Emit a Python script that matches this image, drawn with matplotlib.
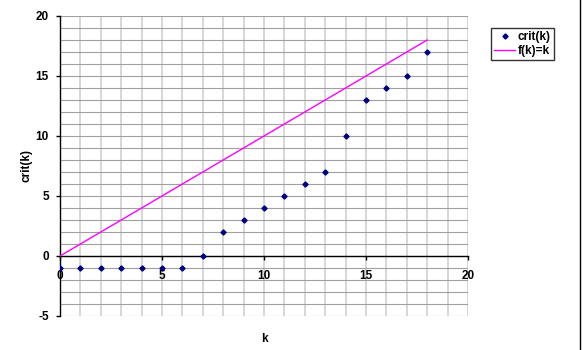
import numpy as np
import matplotlib.pyplot as plt
from matplotlib.lines import Line2D

k_vals = list(range(19))
crit_vals = [-1, -1, -1, -1, -1, -1, -1, 0, 2, 3, 4, 5, 6, 7, 10, 13, 14, 15, 17]
line_k = [0, 18]
line_f = [0, 18]

plt.rcParams['font.family'] = ['Liberation Sans', 'DejaVu Sans']
plt.rcParams['font.weight'] = 'bold'
plt.rcParams['axes.unicode_minus'] = False

fig = plt.figure(figsize=(5.87, 3.5), dpi=100)
ax = fig.add_axes([60 / 587, 1 - 316 / 350, 408 / 587, 300 / 350])

ax.set_xlim(0, 20)
ax.set_ylim(-5, 20)

# gitter: vertikal hell, horizontal dunkler
for x in range(0, 21):
    ax.axvline(x, color='#d4d4d4', lw=1.3, zorder=0)
for y in range(-5, 21):
    ax.axhline(y, color='#a0a0a0', lw=0.8, zorder=0)

ax.plot(line_k, line_f, color='#ff00ff', lw=1.0, label='f(k)=k', zorder=3)
ax.plot(k_vals, crit_vals, linestyle='none', marker='D', markersize=2.6,
        color='#000080', label='crit(k)', zorder=4)

ax.spines['top'].set_visible(False)
ax.spines['right'].set_visible(False)
ax.spines['bottom'].set_position(('data', 0))
ax.spines['left'].set_linewidth(1.0)
ax.spines['bottom'].set_linewidth(1.0)

ax.set_xticks([0, 5, 10, 15, 20])
ax.set_yticks([-5, 0, 5, 10, 15, 20])
ax.tick_params(axis='both', direction='out', length=3, width=1, labelsize=8.5)
ax.tick_params(axis='x', pad=7)
ax.tick_params(axis='y', pad=5)
for lab in ax.get_xticklabels() + ax.get_yticklabels():
    lab.set_fontweight('bold')

ax.set_ylabel('crit(k)', fontsize=8.5, fontweight='bold')
ax.yaxis.set_label_coords(-0.068, 0.503)
fig.text(264 / 587, 1 - 339 / 350, 'k', fontsize=8.5, fontweight='bold', ha='center', va='center')

handles, labels = ax.get_legend_handles_labels()
leg = fig.legend(handles[::-1], labels[::-1], loc='upper left',
                 bbox_to_anchor=(491 / 587, 1 - 28 / 350),
                 fontsize=8.5, frameon=True, fancybox=False, edgecolor='black',
                 handlelength=1.8, handletextpad=0.2, borderpad=0.25, labelspacing=0.2,
                 borderaxespad=0)
leg.get_frame().set_linewidth(1.0)
for t in leg.get_texts():
    t.set_fontweight('bold')

fig.add_artist(Line2D([580 / 587, 580 / 587], [0, 1], color='black', lw=1.0,
                      transform=fig.transFigure))

fig.savefig('out.png', dpi=100)
